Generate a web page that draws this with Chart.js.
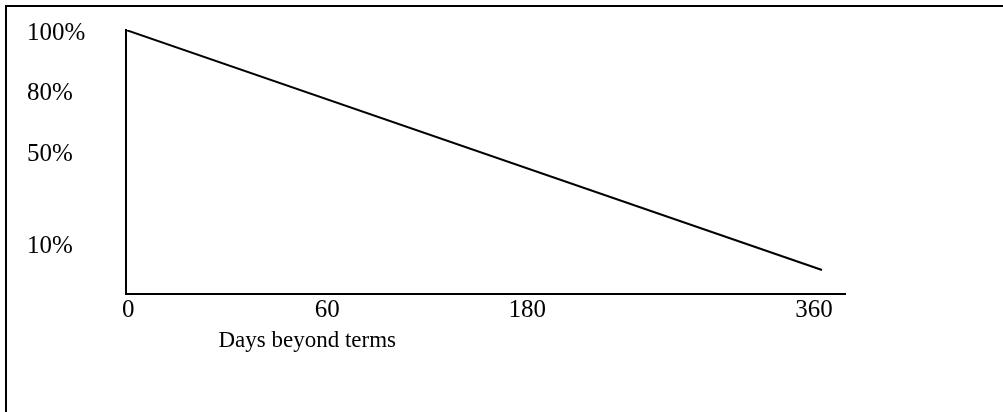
<!DOCTYPE html>
<html>
<head>
<meta charset="utf-8">
<script src="https://cdn.jsdelivr.net/npm/chart.js@4"></script>
<style>
  html, body { margin: 0; padding: 0; background: #fff; }
  #wrap { position: relative; width: 1003px; height: 412px; }
  #frame { position: absolute; left: 5px; top: 5px; right: 0; bottom: 0;
           border-top: 2px solid #000; border-left: 2px solid #000; pointer-events: none; }
</style>
</head>
<body>
<div id="wrap">
  <canvas id="chart" width="1003" height="412"></canvas>
  <div id="frame"></div>
</div>
<script>
// schematic axes: both run 0..100 along their length, labels sit where the drawing put them
const xTickLabels = ['0', '60', '180', '360'];
const xTickPos = [0.3, 28, 55.8, 95.7];
const yTickLabels = ['10%', '50%', '80%', '100%'];
const yTickPos = [18, 52.7, 75.9, 98.7];
const lineX = [0, 96.8];
const lineY = [100, 9.1];
const xTitle = 'Days beyond terms';

const FONT = "'Liberation Serif', 'Times New Roman', serif";

const axisTitle = {
    id: 'axisTitle',
    afterDraw(chart) {
        const ctx = chart.ctx;
        const x = chart.scales.x.getPixelForValue(25.2);
        ctx.save();
        ctx.font = '23px ' + FONT;
        ctx.fillStyle = '#000';
        ctx.textAlign = 'center';
        ctx.textBaseline = 'middle';
        ctx.fillText(xTitle, x, chart.chartArea.bottom + 47);
        ctx.restore();
    }
};

new Chart(document.getElementById('chart').getContext('2d'), {
    type: 'line',
    data: {
        datasets: [{
            data: lineX.map((x, i) => ({ x: x, y: lineY[i] })),
            borderColor: '#000',
            borderWidth: 2,
            pointRadius: 0,
            tension: 0
        }]
    },
    options: {
        responsive: false,
        animation: false,
        devicePixelRatio: 1,
        layout: { padding: { left: 27, top: 30, right: 158, bottom: 0 } },
        plugins: { legend: { display: false }, tooltip: { enabled: false } },
        scales: {
            x: {
                type: 'linear',
                min: 0,
                max: 100,
                grid: { display: false },
                border: { display: true, color: '#000', width: 2 },
                afterBuildTicks: s => { s.ticks = xTickPos.map(v => ({ value: v })); },
                afterFit: s => { s.height = 118; },
                ticks: {
                    autoSkip: false,
                    maxRotation: 0,
                    padding: -7,
                    color: '#000',
                    font: { family: FONT, size: 25 },
                    callback: (v, i) => xTickLabels[i]
                }
            },
            y: {
                type: 'linear',
                min: 0,
                max: 100,
                grid: { display: false },
                border: { display: true, color: '#000', width: 2 },
                afterBuildTicks: s => { s.ticks = yTickPos.map(v => ({ value: v })); },
                afterFit: s => { s.width = 99; },
                ticks: {
                    autoSkip: false,
                    crossAlign: 'far',
                    color: '#000',
                    font: { family: FONT, size: 25 },
                    callback: (v, i) => yTickLabels[i]
                }
            }
        }
    },
    plugins: [axisTitle]
});
</script>
</body>
</html>
